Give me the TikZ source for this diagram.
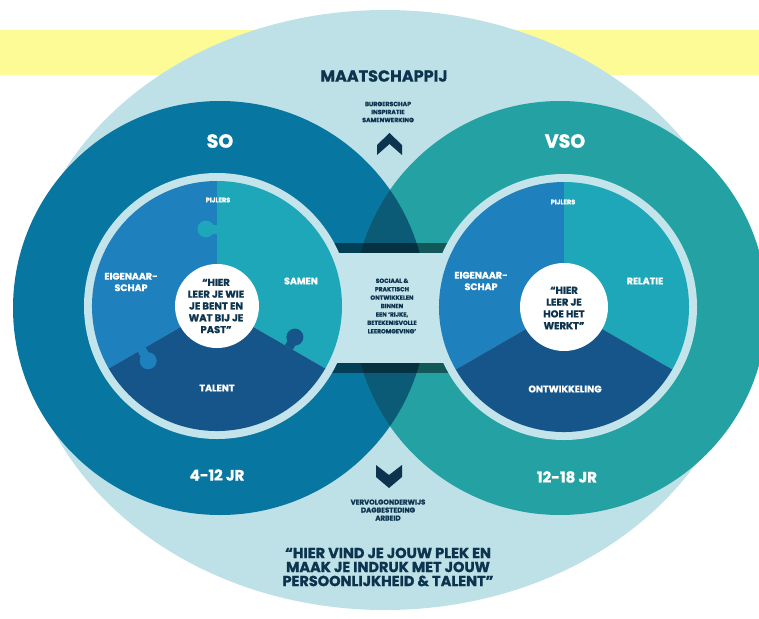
\documentclass[tikz,border=0pt]{standalone}
\usepackage{fontspec}
\setmainfont{Poppins}[BoldFeatures={FakeBold=1.2}]
\usetikzlibrary{positioning}

\definecolor{band}{RGB}{253,251,150}
\definecolor{ell}{RGB}{190,225,231}
\definecolor{soC}{RGB}{7,118,160}
\definecolor{vsoC}{RGB}{36,161,162}
\definecolor{lensC}{RGB}{11,90,118}
\definecolor{ringC}{RGB}{195,228,234}
\definecolor{pieB}{RGB}{31,128,190}
\definecolor{pieT}{RGB}{29,167,185}
\definecolor{pieD}{RGB}{22,85,138}
\definecolor{navy}{RGB}{13,52,78}
\pgfdeclareradialshading{ellfade}{\pgfpoint{0bp}{0bp}}{color(0bp)=(ell); color(36bp)=(ell); color(50bp)=(ell!50!white)}

\begin{document}
\begin{tikzpicture}[x=1pt, y=-1pt,
  kop/.style={text=navy, font=\bfseries\fontsize{16}{16}\selectfont, inner sep=0pt},
  mini/.style={text=navy, font=\bfseries\fontsize{6.2}{8}\selectfont, align=center, inner sep=0pt},
  groot/.style={text=white, font=\bfseries\fontsize{19}{19}\selectfont, inner sep=0pt},
  wit/.style={text=white, font=\bfseries\fontsize{9.5}{11.5}\selectfont, align=center, inner sep=0pt},
  quote/.style={text=navy, font=\bfseries\fontsize{10}{11.8}\selectfont, align=center, inner sep=0pt},
  leeftijd/.style={text=white, font=\bfseries\fontsize{15}{15}\selectfont, inner sep=0pt},
  slot/.style={text=navy, font=\bfseries\fontsize{14.5}{14}\selectfont, align=center, inner sep=0pt}]
  % maten
  \def\r{207}
  \def\rr{133}
  \def\rp{125}

  \useasboundingbox (0,0) rectangle (759,618);
  \clip (0,0) rectangle (759,618);

  % achtergrond
  \fill[band] (0,30) rectangle (759,75);
  \shade[shading=ellfade] (385,310) ellipse[x radius=362, y radius=300];

  % SO en VSO
  \coordinate (L) at (220,308);
  \coordinate (R) at (560,308);
  \fill[soC] (L) circle (\r);
  \fill[vsoC] (R) circle (\r);
  \begin{scope}
    \clip (L) circle (\r);
    \fill[lensC] (R) circle (\r);
  \end{scope}

  % brug tussen de ringen
  \fill[black, opacity=.45] (330,243) rectangle (455,253);
  \fill[black, opacity=.45] (330,363) rectangle (455,373);
  \fill[ringC] (330,253) rectangle (455,363);

  % pijlen
  \fill[navy] (377,145) -- (389.5,133) -- (402,145) -- (402,155) -- (389.5,144) -- (377,155) -- cycle;
  \fill[navy] (376,465) -- (389,475) -- (402,465) -- (402,477) -- (389,488) -- (376,477) -- cycle;

  % pijlers
  \coordinate (pl) at (217,306);
  \coordinate (pr) at (564,307);
  \foreach \c in {pl,pr} {
    \fill[ringC] (\c) circle (\rr);
    \fill[pieB] (\c) -- ++(150:\rp) arc[start angle=150, end angle=270, radius=\rp] -- cycle;
    \fill[pieT] (\c) -- ++(270:\rp) arc[start angle=270, end angle=390, radius=\rp] -- cycle;
    \fill[pieD] (\c) -- ++(30:\rp) arc[start angle=30, end angle=150, radius=\rp] -- cycle;
  }

  % puzzelstukjes
  \path (pl) ++(270:77) coordinate (k1);
  \path (pl) ++(30:83) coordinate (k2);
  \path (pl) ++(150:87) coordinate (k3);
  \draw[pieT, line width=9pt] (k1) -- ++(180:11);
  \fill[pieT] (k1) ++(180:11) circle (8.5);
  \draw[pieD, line width=9pt] (k2) -- ++(-60:12);
  \fill[pieD] (k2) ++(-60:12) circle (8.5);
  \draw[pieB, line width=9pt] (k3) -- ++(60:13);
  \fill[pieB] (k3) ++(60:13) circle (8.5);

  \fill[white] (pl) circle (42);
  \fill[white] (pr) circle (44);

  % teksten
  \node[kop] (maat) at (384,76) {MAATSCHAPPIJ};
  \node[mini] (burger) at (388,112) {BURGERSCHAP\\INSPIRATIE\\SAMENWERKING};
  \node[groot] (so) at (220,141) {SO};
  \node[groot] (vso) at (565,141) {VSO};

  \node[mini, text=white, font=\bfseries\fontsize{6.5}{8}\selectfont] (pijlL) at (218,200) {PIJLERS};
  \node[mini, text=white, font=\bfseries\fontsize{6.5}{8}\selectfont] (pijlR) at (563,202) {PIJLERS};
  \node[wit] (eigL) at (131,282) {EIGENAAR-\\SCHAP};
  \node[wit] (eigR) at (481,281) {EIGENAAR-\\SCHAP};
  \node[wit] (samen) at (301,281) {SAMEN};
  \node[wit] (relatie) at (645,281) {RELATIE};
  \node[wit] (talent) at (217,388) {TALENT};
  \node[wit] (ontw) at (565,389) {ONTWIKKELING};

  \node[quote] (wie) at (216,306) {“HIER\\LEER JE WIE\\JE BENT EN\\WAT BIJ JE\\PAST”};
  \node[quote] (hoe) at (564,308) {“HIER\\LEER JE\\HOE HET\\WERKT”};
  \node[mini, font=\bfseries\fontsize{6}{8.4}\selectfont] (sociaal) at (392,306)
    {SOCIAAL \&\\PRAKTISCH\\ONTWIKKELEN\\BINNEN\\EEN ‘RIJKE,\\BETEKENISVOLLE\\LEEROMGEVING’};

  \node[leeftijd] (jrL) at (217,475) {4-12 JR};
  \node[leeftijd] (jrR) at (567,477) {12-18 JR};
  \node[mini, font=\bfseries\fontsize{7}{8}\selectfont] (vervolg) at (388,510) {VERVOLGONDERWIJS\\DAGBESTEDING\\ARBEID};
  \node[slot] (plek) at (388,567) {“HIER VIND JE JOUW PLEK EN\\MAAK JE INDRUK MET JOUW\\PERSOONLIJKHEID \& TALENT”};
\end{tikzpicture}
\end{document}
